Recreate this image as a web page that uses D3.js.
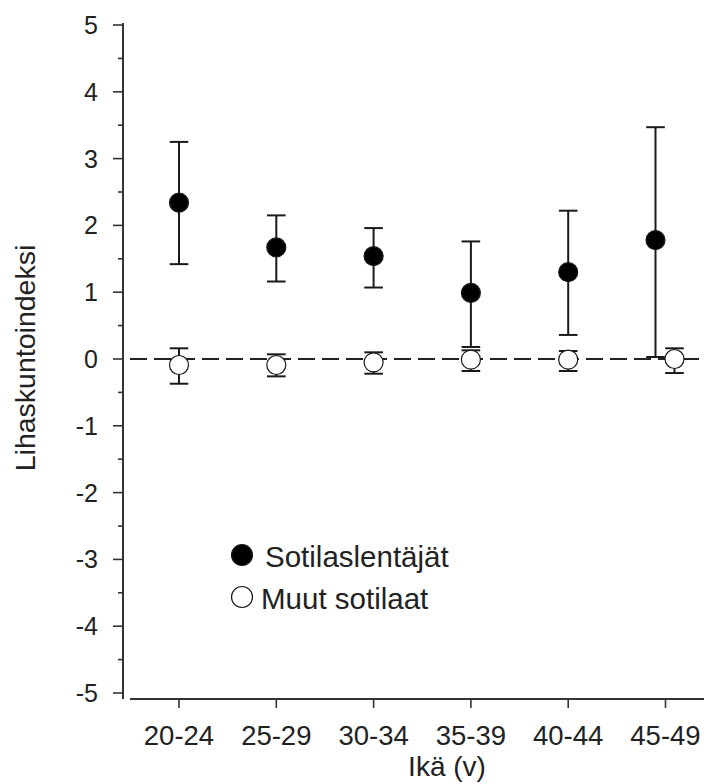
<!DOCTYPE html>
<html>
<head>
<meta charset="utf-8">
<script src="https://cdn.jsdelivr.net/npm/d3@7"></script>
<style>
  body { margin: 0; background: #fff; }
  svg text { font-family: "Liberation Sans", Arial, sans-serif; fill: #222; }
</style>
</head>
<body>
<svg width="704" height="784"></svg>
<script>
const ageGroups = ["20-24", "25-29", "30-34", "35-39", "40-44", "45-49"];

// Sotilaslentäjät (filled)
const pilotMean  = [2.34, 1.67, 1.54, 0.99, 1.30, 1.78];
const pilotUpper = [3.25, 2.15, 1.96, 1.76, 2.22, 3.47];
const pilotLower = [1.42, 1.16, 1.07, 0.18, 0.36, 0.03];

// Muut sotilaat (open)
const otherMean  = [-0.09, -0.09, -0.05, -0.01, -0.01, 0.00];
const otherUpper = [0.16, 0.07, 0.10, 0.13, 0.12, 0.16];
const otherLower = [-0.37, -0.26, -0.22, -0.18, -0.18, -0.21];

const yTicks = [-5, -4, -3, -2, -1, 0, 1, 2, 3, 4, 5];
const yMinorTicks = [-4.5, -3.5, -2.5, -1.5, -0.5, 0.5, 1.5, 2.5, 3.5, 4.5];

const legendItems = [
    {label: "Sotilaslentäjät", fill: "#000"},
    {label: "Muut sotilaat", fill: "#fff"}
];

const svg = d3.select("svg");

const x = d3.scalePoint().domain(ageGroups).range([179, 665.5]);
const y = d3.scaleLinear().domain([-5, 5]).range([693, 25]);

const axisX = 123;      // y-axis line position
const baseY = 699;      // x-axis line position
const markerR = 9.5;
const capW = 9.3;
const ink = "#1a1a1a";

// y axis
const yAxis = svg.append("g").attr("transform", `translate(${axisX},0)`);
yAxis.append("line")
     .attr("y1", 23).attr("y2", baseY)
     .attr("stroke", "#333").attr("stroke-width", 2);
yAxis.selectAll(".major")
     .data(yTicks)
     .join("line")
       .attr("class", "major")
       .attr("x1", -10).attr("x2", 0)
       .attr("y1", d => y(d)).attr("y2", d => y(d))
       .attr("stroke", "#333").attr("stroke-width", 1.6);
yAxis.selectAll(".minor")
     .data(yMinorTicks)
     .join("line")
       .attr("class", "minor")
       .attr("x1", -5).attr("x2", 0)
       .attr("y1", d => y(d)).attr("y2", d => y(d))
       .attr("stroke", "#333").attr("stroke-width", 1.6);
yAxis.selectAll("text")
     .data(yTicks)
     .join("text")
       .attr("x", -25)
       .attr("y", d => y(d))
       .attr("dy", "0.36em")
       .attr("text-anchor", "end")
       .attr("font-size", 25)
       .text(d => d);

// x axis
const xAxis = svg.append("g");
xAxis.append("line")
     .attr("x1", 130).attr("x2", 704)
     .attr("y1", baseY).attr("y2", baseY)
     .attr("stroke", "#333").attr("stroke-width", 2);
xAxis.selectAll(".tick")
     .data(ageGroups)
     .join("line")
       .attr("class", "tick")
       .attr("x1", d => x(d)).attr("x2", d => x(d))
       .attr("y1", baseY).attr("y2", baseY + 9)
       .attr("stroke", "#333").attr("stroke-width", 1.6);
xAxis.selectAll("text")
     .data(ageGroups)
     .join("text")
       .attr("x", d => x(d))
       .attr("y", 745)
       .attr("text-anchor", "middle")
       .attr("font-size", 27.5)
       .text(d => d);

// axis titles
svg.append("text")
   .attr("x", 447).attr("y", 776)
   .attr("text-anchor", "middle")
   .attr("font-size", 28)
   .text("Ikä (v)");

svg.append("text")
   .attr("transform", "translate(35,358) rotate(-90)")
   .attr("text-anchor", "middle")
   .attr("font-size", 28.5)
   .text("Lihaskuntoindeksi");

// zero reference line
svg.append("line")
   .attr("x1", 130).attr("x2", 704)
   .attr("y1", y(0)).attr("y2", y(0))
   .attr("stroke", "#222").attr("stroke-width", 1.8)
   .attr("stroke-dasharray", "17,7");

// error bars + markers; only the last group is dodged apart in the original
const series = [
    {mean: otherMean, upper: otherUpper, lower: otherLower, fill: "#fff", shift: 9},
    {mean: pilotMean, upper: pilotUpper, lower: pilotLower, fill: "#000", shift: -10}
];

series.forEach(s => {
    const g = svg.append("g");
    const rows = ageGroups.map((a, i) => ({
        cx: x(a) + (i === ageGroups.length - 1 ? s.shift : 0),
        m: s.mean[i], hi: s.upper[i], lo: s.lower[i]
    }));

    g.selectAll(".stem")
     .data(rows)
     .join("line")
       .attr("class", "stem")
       .attr("x1", d => d.cx).attr("x2", d => d.cx)
       .attr("y1", d => y(d.hi)).attr("y2", d => y(d.lo))
       .attr("stroke", ink).attr("stroke-width", 2);

    ["hi", "lo"].forEach(k => {
        g.selectAll(".cap-" + k)
         .data(rows)
         .join("line")
           .attr("class", "cap-" + k)
           .attr("x1", d => d.cx - capW).attr("x2", d => d.cx + capW)
           .attr("y1", d => y(d[k])).attr("y2", d => y(d[k]))
           .attr("stroke", ink).attr("stroke-width", 2);
    });

    g.selectAll("circle")
     .data(rows)
     .join("circle")
       .attr("cx", d => d.cx)
       .attr("cy", d => y(d.m))
       .attr("r", markerR)
       .attr("fill", s.fill)
       .attr("stroke", ink)
       .attr("stroke-width", 1.2);
});

// legend
const legend = svg.append("g").attr("transform", "translate(242,555)");
const item = legend.selectAll("g")
    .data(legendItems)
    .join("g")
      .attr("transform", (d, i) => `translate(0,${i * 42})`);
item.append("circle")
    .attr("r", 10.5)
    .attr("fill", d => d.fill)
    .attr("stroke", ink)
    .attr("stroke-width", 1.2);
item.append("text")
    .attr("x", (d, i) => i === 0 ? 23 : 19)
    .attr("y", 11.5)
    .attr("font-size", 29.5)
    .text(d => d.label);
</script>
</body>
</html>
